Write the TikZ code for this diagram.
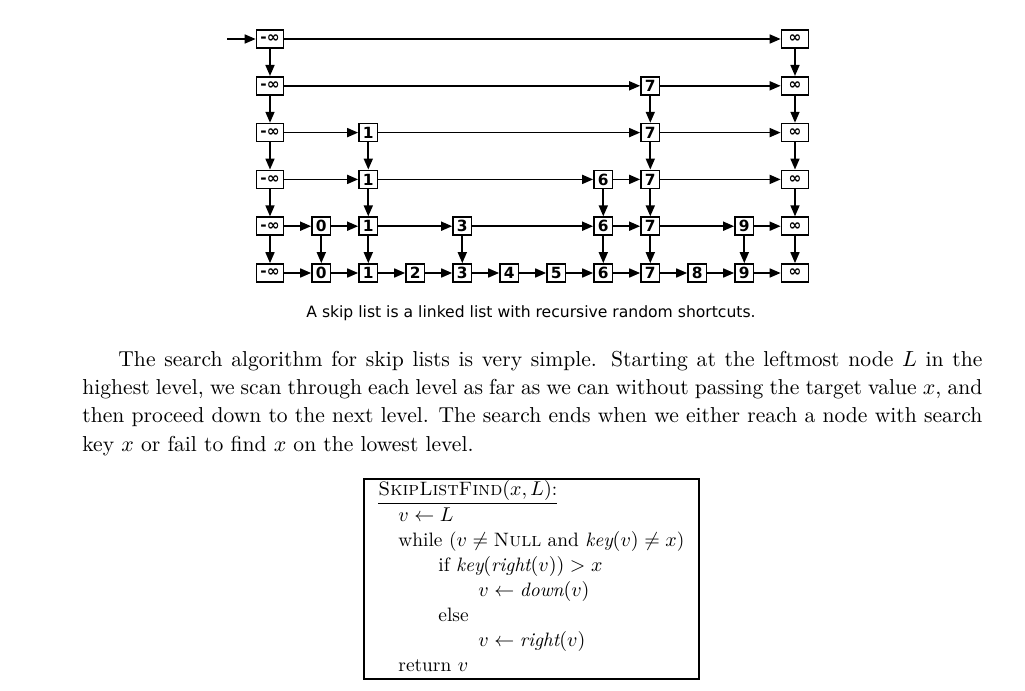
\documentclass[tikz,border=0pt]{standalone}
\usepackage{fontspec}
\newfontfamily\listfont{DejaVu Sans}
\usetikzlibrary{arrows.meta}

\begin{document}
\begin{tikzpicture}[
  x=0.5pt, y=-0.5pt,
  link/.style={-{Triangle[length=5.5pt,width=4.5pt]}, line width=0.85pt},
  cell/.style={draw, line width=0.85pt, inner sep=0pt, minimum width=9.3pt, minimum height=9pt,
    font=\listfont\bfseries\fontsize{7.7}{8}\selectfont},
  sentinel/.style={cell, minimum width=13.5pt},
  bodyline/.style={anchor=base west, inner sep=0pt, font=\fontsize{10.8}{13}\selectfont},
  codeline/.style={anchor=base west, inner sep=0pt, font=\fontsize{9.7}{11}\selectfont}
]
  \useasboundingbox (0,0) rectangle (1025,691);

  % skip list: sentinels on every level
  \foreach \r in {0,...,5} {
    \node[sentinel] (nL-\r) at (270, 39+46.8*\r) {-∞};
    \node[sentinel] (nR-\r) at (795, 39+46.8*\r) {∞};
  }
  % keys kept on each level
  \foreach \r/\keys in {1/{7},2/{1,7},3/{1,6,7},4/{0,1,3,6,7,9},5/{0,1,2,3,4,5,6,7,8,9}}
    \foreach \k in \keys
      \node[cell] (n\k-\r) at (321.3+47*\k, 39+46.8*\r) {\k};

  % right pointers
  \foreach \r/\keys in {0/{R},1/{7,R},2/{1,7,R},3/{1,6,7,R},4/{0,1,3,6,7,9,R},5/{0,1,2,3,4,5,6,7,8,9,R}}
    \foreach \k [remember=\k as \prev (initially L)] in \keys
      \draw[link] (n\prev-\r) -- (n\k-\r);

  % down pointers
  \foreach \r/\keys in {0/{L,R},1/{L,7,R},2/{L,1,7,R},3/{L,1,6,7,R},4/{L,0,1,3,6,7,9,R}} {
    \pgfmathtruncatemacro\rr{\r+1}
    \foreach \k in \keys
      \draw[link] (n\k-\r) -- (n\k-\rr);
  }

  \coordinate (entry) at (227,39);
  \draw[link] (entry) -- (nL-0);

  \node[anchor=base, inner sep=0pt, font=\listfont\fontsize{7.8}{9}\selectfont] (caption) at (531,317)
    {A skip list is a linked list with recursive random shortcuts.};

  % paragraph
  \node[bodyline] (par1) at (118,366.7)
    {\hbox to 432pt{The search algorithm for skip lists is very simple. Starting at the leftmost node $L$ in the}};
  \node[bodyline] (par2) at (82,394.5)
    {\hbox to 450pt{highest level, we scan through each level as far as we can without passing the target value $x$, and}};
  \node[bodyline] (par3) at (82,422.7)
    {\hbox to 450pt{then proceed down to the next level. The search ends when we either reach a node with search}};
  \node[bodyline] (par4) at (82,451)
    {key $x$ or fail to find $x$ on the lowest level.};

  % pseudocode box
  \draw[line width=0.6pt] (364,479) rectangle (699,679);
  \node[codeline] (c0) at (378,495.7) {\underline{\textsc{SkipListFind}$(x,L)$:}};
  \node[codeline] (c1) at (398,521.7) {$v\gets L$};
  \node[codeline] (c2) at (398,546.7) {while ($v\neq\textsc{Null}$ and $\textit{key}(v)\neq x$)};
  \node[codeline] (c3) at (438,571.7) {if $\textit{key}(\textit{right}(v))>x$};
  \node[codeline] (c4) at (478,596.7) {$v\gets\textit{down}(v)$};
  \node[codeline] (c5) at (438,621.7) {else};
  \node[codeline] (c6) at (478,646.7) {$v\gets\textit{right}(v)$};
  \node[codeline] (c7) at (398,671.7) {return $v$};
\end{tikzpicture}
\end{document}
